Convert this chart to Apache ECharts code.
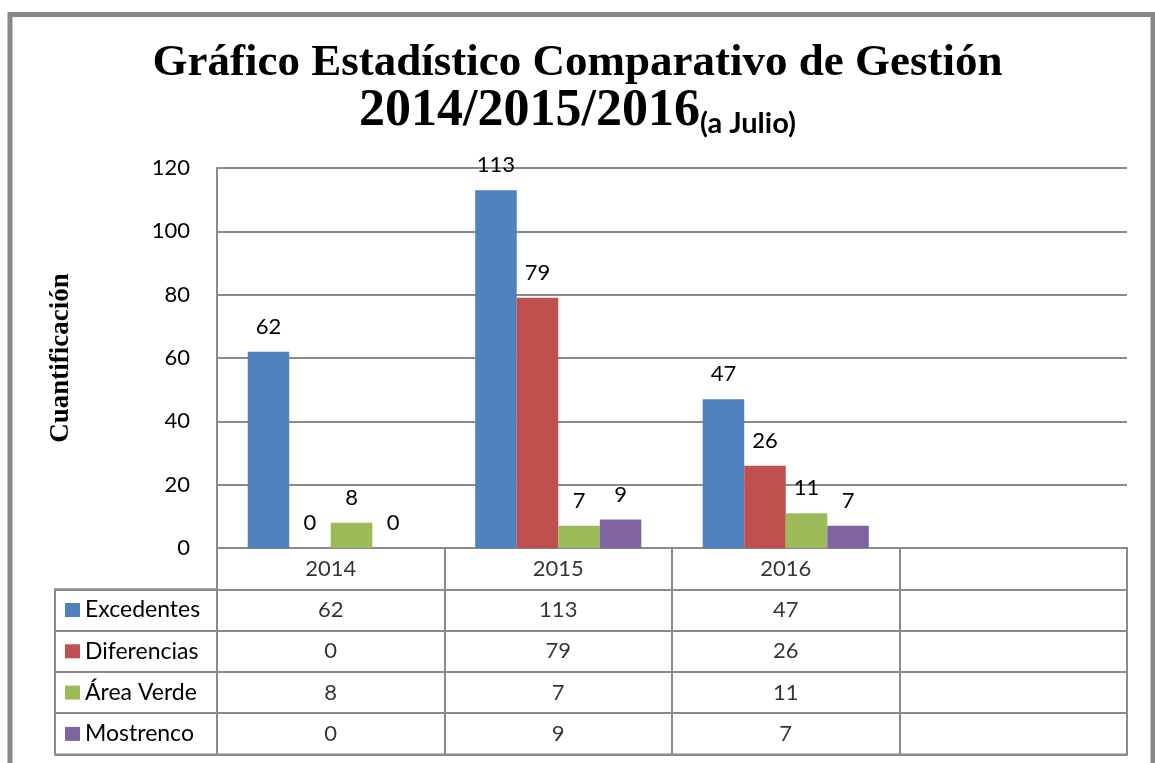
<!DOCTYPE html>
<html>
<head>
<meta charset="utf-8">
<script src="https://cdn.jsdelivr.net/npm/echarts@6/dist/echarts.min.js"></script>
<style>
  html, body { margin: 0; padding: 0; background: #fff; }
  #main { width: 1155px; height: 763px; }
</style>
</head>
<body>
<div id="main"></div>
<script>
// datos del grafico
const categories = ['2014', '2015', '2016', ''];
const seriesNames = ['Excedentes', 'Diferencias', 'Área Verde', 'Mostrenco'];
const excedentes = [62, 113, 47];
const diferencias = [0, 79, 26];
const areaVerde = [8, 7, 11];
const mostrenco = [0, 9, 7];
const colors = ['#4F81BD', '#C0504D', '#9BBB59', '#8064A2'];

const allValues = [excedentes, diferencias, areaVerde, mostrenco];
const gridColor = '#8a8a8a';
const sans = 'Lato';
const serif = 'Liberation Serif';

// celdas de la tabla: fila 0 = años, filas 1..4 = series
let tableCells = [];
for (let i = 0; i < 3; i++) {
    tableCells.push([i, 0, categories[i]]);
    allValues.forEach(function (vals, j) {
        tableCells.push([i, j + 1, String(vals[i])]);
    });
}

let myChart = echarts.init(document.getElementById('main'));

let barSeries = allValues.map(function (vals, j) {
    return {
        name: seriesNames[j],
        type: 'bar',
        xAxisIndex: 0,
        yAxisIndex: 0,
        barGap: 0,
        barCategoryGap: '27%',
        data: vals,
        itemStyle: { color: colors[j] },
        label: {
            show: true,
            position: 'top',
            distance: 14,
            fontFamily: sans,
            fontSize: 22,
            color: '#000'
        }
    };
});

let options = {
    animation: false,
    backgroundColor: '#fff',
    title: {
        text: '{a|Gráfico Estadístico Comparativo de Gestión}\n{c|2014/2015/2016}{b|(a Julio)}',
        left: 'center',
        top: 33,
        textStyle: {
            rich: {
                a: { fontFamily: serif, fontWeight: 'bold', fontSize: 45, lineHeight: 48, color: '#000', verticalAlign: 'bottom' },
                c: { fontFamily: serif, fontWeight: 'bold', fontSize: 52, lineHeight: 52, color: '#000', verticalAlign: 'bottom' },
                b: { fontFamily: sans, fontWeight: 'bold', fontSize: 29, lineHeight: 46, color: '#000', verticalAlign: 'bottom' }
            }
        }
    },
    legend: {
        data: seriesNames,
        orient: 'vertical',
        left: 65,
        top: 598.5,
        padding: 0,
        itemWidth: 15,
        itemHeight: 14,
        itemGap: 18.3,
        icon: 'rect',
        selectedMode: false,
        textStyle: { fontFamily: sans, fontSize: 23, lineHeight: 23, color: '#000' }
    },
    graphic: [{
        type: 'rect',
        shape: { x: 10, y: 14.5, width: 1143, height: 800 },
        style: { fill: null, stroke: '#888', lineWidth: 5 },
        silent: true
    }],
    grid: [
        { left: 217, right: 28, top: 168, height: 380 },
        { left: 217, right: 28, top: 548, height: 206.5, show: true, borderColor: gridColor, borderWidth: 2 },
        { left: 55, width: 162, top: 589.3, height: 165.2, show: true, borderColor: gridColor, borderWidth: 2 }
    ],
    xAxis: [
        {
            type: 'category', gridIndex: 0, data: categories,
            axisLine: { show: true, lineStyle: { color: gridColor, width: 2 } },
            axisTick: { show: false },
            axisLabel: { show: false }
        },
        {
            type: 'category', gridIndex: 1, data: categories,
            axisLine: { show: false }, axisTick: { show: false }, axisLabel: { show: false },
            splitLine: { show: true, interval: 0, lineStyle: { color: gridColor, width: 2 } }
        },
        { type: 'value', gridIndex: 2, show: false }
    ],
    yAxis: [
        {
            type: 'value', gridIndex: 0, min: 0, max: 120, interval: 20,
            name: 'Cuantificación',
            nameLocation: 'middle',
            nameRotate: 90,
            nameGap: 142,
            nameTextStyle: { fontFamily: serif, fontWeight: 'bold', fontSize: 27, color: '#000' },
            axisLine: { show: true, lineStyle: { color: gridColor, width: 2 } },
            axisTick: { show: false },
            axisLabel: { fontFamily: sans, fontSize: 22, color: '#000', margin: 27 },
            splitLine: { show: true, lineStyle: { color: gridColor, width: 2 } }
        },
        {
            type: 'category', gridIndex: 1, inverse: true, data: [''].concat(seriesNames),
            axisLine: { show: false }, axisTick: { show: false }, axisLabel: { show: false },
            splitLine: { show: true, interval: 0, lineStyle: { color: gridColor, width: 2 } }
        },
        {
            type: 'category', gridIndex: 2, inverse: true, data: seriesNames,
            axisLine: { show: false }, axisTick: { show: false }, axisLabel: { show: false },
            splitLine: { show: true, interval: 0, lineStyle: { color: gridColor, width: 2 } }
        }
    ],
    series: barSeries.concat([{
        name: 'tabla',
        type: 'scatter',
        xAxisIndex: 1,
        yAxisIndex: 1,
        symbolSize: 1,
        itemStyle: { color: 'rgba(0,0,0,0)' },
        silent: true,
        data: tableCells,
        label: {
            show: true,
            position: 'inside',
            formatter: function (p) { return p.value[2]; },
            fontFamily: sans,
            fontSize: 22,
            color: '#000'
        }
    }])
};
myChart.setOption(options);
</script>
</body>
</html>
